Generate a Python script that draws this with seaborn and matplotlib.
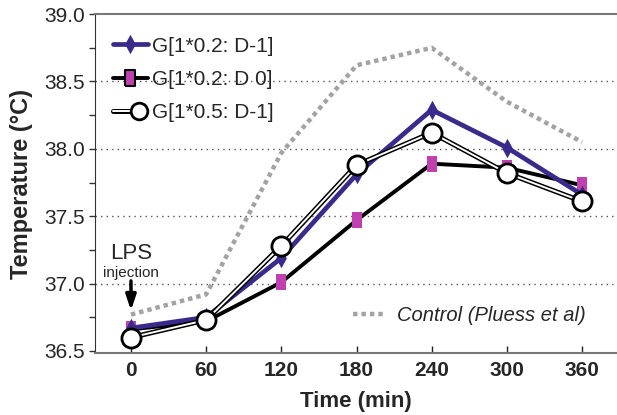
import matplotlib
matplotlib.use("Agg")
import matplotlib.pyplot as plt
import matplotlib.patheffects as pe
from matplotlib.lines import Line2D
from matplotlib.legend_handler import HandlerTuple
import seaborn as sns
import pandas as pd

time_min = [0, 60, 120, 180, 240, 300, 360]
g02_dm1 = [36.67, 36.75, 37.19, 37.81, 38.29, 38.01, 37.66]
g02_d0 = [36.66, 36.72, 37.01, 37.47, 37.89, 37.86, 37.73]
g05_dm1 = [36.60, 36.73, 37.28, 37.88, 38.12, 37.82, 37.61]
control = [36.77, 36.92, 37.97, 38.62, 38.75, 38.35, 38.05]
y_ticks = [36.5, 37.0, 37.5, 38.0, 38.5, 39.0]
grid_levels = [37.0, 37.5, 38.0, 38.5]

label_a = "G[1*0.2: D-1]"
label_b = "G[1*0.2: D 0]"
label_c = "G[1*0.5: D-1]"
label_ctrl = "Control (Pluess et al)"

df = pd.DataFrame({"t": time_min, "a": g02_dm1, "b": g02_d0, "c": g05_dm1, "ctrl": control})

sns.set_style("white")
plt.rcParams["font.family"] = ["Liberation Sans", "DejaVu Sans"]

fig = plt.figure(figsize=(6.17, 4.15), dpi=100)
ax = fig.add_axes([0.154, 0.1494, 0.846, 0.8166])

purple = "#3a2a8c"
magenta = "#c040b0"
sq = [(-0.6, -1), (0.6, -1), (0.6, 1), (-0.6, 1), (-0.6, -1)]
dia = [(0, 1), (0.55, 0), (0, -1), (-0.55, 0), (0, 1)]

for g in grid_levels:
    ax.axhline(g, color="#555555", lw=1.0, ls=(0, (1, 3)), zorder=0.5)

sns.lineplot(data=df, x="t", y="ctrl", ax=ax, color="#a3a3a3", lw=3.2,
             linestyle=(0, (1, 0.9)), zorder=1)
sns.lineplot(data=df, x="t", y="b", ax=ax, color="black", lw=2.8, zorder=2,
             marker=sq, markersize=12, markerfacecolor=magenta,
             markeredgecolor=magenta, markeredgewidth=0)
sns.lineplot(data=df, x="t", y="a", ax=ax, color=purple, lw=3.4, zorder=3,
             marker=dia, markersize=14, markerfacecolor=purple,
             markeredgecolor=purple, markeredgewidth=0)
sns.lineplot(data=df, x="t", y="c", ax=ax, color="white", lw=1.4, zorder=4)
ax.lines[-1].set_path_effects([pe.Stroke(linewidth=3.6, foreground="black"), pe.Normal()])
sns.scatterplot(data=df, x="t", y="c", ax=ax, s=190, color="white",
                edgecolor="black", linewidth=2, zorder=5)

ax.set_xlim(-28.7, 387.9)
ax.set_ylim(36.485, 39.0)
ax.set_xticks(time_min)
ax.set_xticklabels([str(t) for t in time_min], fontsize=15, fontweight="bold")
ax.set_yticks(y_ticks)
ax.set_yticklabels([f"{v:.1f}" for v in y_ticks], fontsize=15)
ax.set_yticks([36.75, 37.25, 37.75, 38.25, 38.75], minor=True)
ax.tick_params(axis="y", which="both", direction="out", length=4, width=1,
               left=True, color="#333333", pad=3)
ax.tick_params(axis="x", direction="in", length=5, width=1, bottom=True,
               color="#222222", pad=6)

ax.set_xlabel("Time (min)", fontsize=16, fontweight="bold", labelpad=8)
ax.set_ylabel("Temperature (°C)", fontsize=17, fontweight="bold", labelpad=8)

ax.spines["right"].set_visible(False)
ax.spines["left"].set_bounds(36.5, 39.0)
ax.spines["left"].set_color("#333333")
ax.spines["top"].set_color("#777777")
ax.spines["top"].set_linewidth(1.5)
ax.spines["bottom"].set_color("#777777")
ax.spines["bottom"].set_linewidth(1.5)

ax.text(0, 37.22, "LPS", ha="center", va="center", fontsize=16)
ax.text(0, 37.08, "injection", ha="center", va="center", fontsize=11)
ax.annotate("", xy=(0, 36.8), xytext=(0, 37.02),
            arrowprops=dict(arrowstyle="-|>,head_width=0.3,head_length=0.9",
                            color="black", lw=2.5, shrinkA=0, shrinkB=0))

h_a = Line2D([], [], color=purple, lw=3.4, marker=dia, markersize=14,
             markerfacecolor=purple, markeredgecolor=purple, markeredgewidth=0)
h_b = Line2D([], [], color="black", lw=2.8, marker=sq, markersize=12,
             markerfacecolor=magenta, markeredgecolor="black", markeredgewidth=1.5)
h_c_line = Line2D([], [], color="white", lw=1.4,
                  path_effects=[pe.Stroke(linewidth=3.6, foreground="black"), pe.Normal()])
h_c_mk = Line2D([], [], ls="none", marker="o", markersize=12,
                markerfacecolor="white", markeredgecolor="black", markeredgewidth=2)
leg1 = ax.legend([h_a, h_b, (h_c_line, h_c_mk)], [label_a, label_b, label_c],
                 handler_map={tuple: HandlerTuple(ndivide=None, pad=0)},
                 loc="upper left", bbox_to_anchor=(0.01, 0.97), frameon=False,
                 fontsize=15, handlelength=1.7, handletextpad=0.2,
                 labelspacing=0.68, borderaxespad=0.2)
ax.add_artist(leg1)

h_ctrl = Line2D([], [], color="#a3a3a3", lw=3.2, linestyle=(0, (1, 0.9)))
leg2 = ax.legend([h_ctrl], [label_ctrl], loc="lower right",
                 bbox_to_anchor=(0.975, 0.03), frameon=False,
                 prop={"size": 14.5, "style": "italic"},
                 handlelength=1.6, handletextpad=0.6)

fig.savefig("out.png", dpi=100)
